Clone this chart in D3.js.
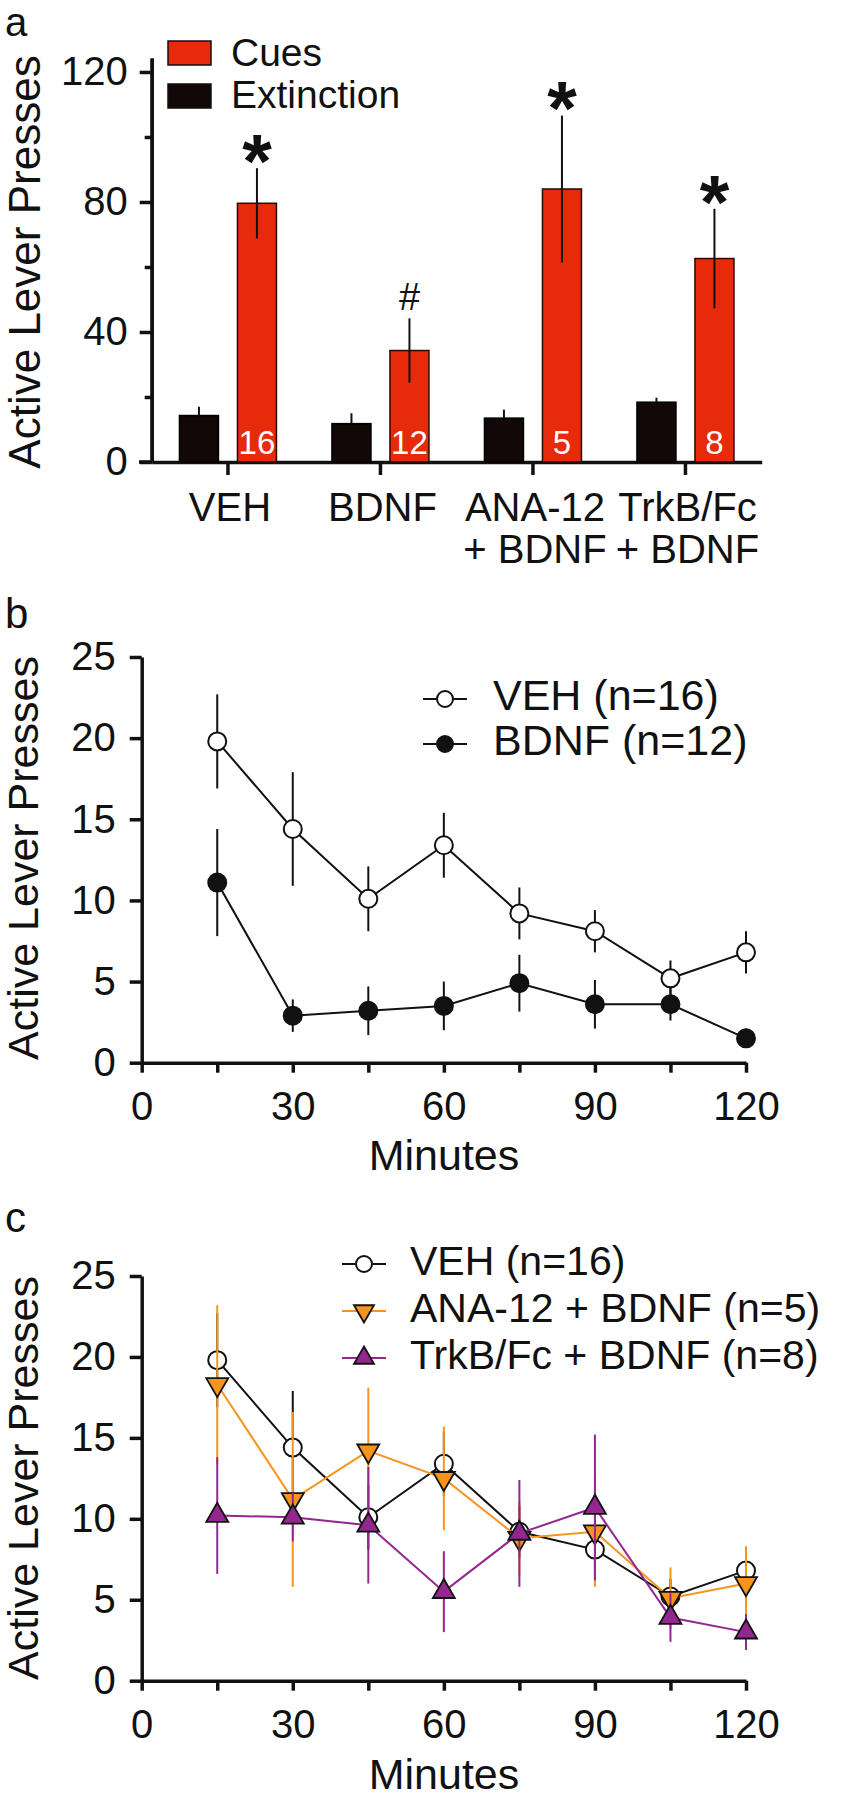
<!DOCTYPE html>
<html>
<head>
<meta charset="utf-8">
<script src="https://cdn.jsdelivr.net/npm/d3@7"></script>
<style>
  html, body { margin: 0; padding: 0; background: #fff; }
  svg text { font-family: "Liberation Sans", Arial, Helvetica, sans-serif; fill: #111; }
</style>
</head>
<body>
<svg id="chart" width="844" height="1800"></svg>
<script>
// ---------- Panel a data ----------
const groups = ["VEH", "BDNF", "ANA-12 + BDNF", "TrkB/Fc + BDNF"];
const groupLabelLines = [["VEH"], ["BDNF"], ["ANA-12", "+ BDNF"], ["TrkB/Fc", "+ BDNF"]];
const extinctionMean = [14.3, 11.8, 13.5, 18.4];
const extinctionSem = [2.7, 3.2, 2.6, 1.4];
const cuesMean = [79.6, 34.3, 84.0, 62.6];
const cuesSem = [10.8, 9.9, 22.6, 15.3];
const sampleN = [16, 12, 5, 8];
const sigMarks = ["*", "#", "*", "*"];
const barTicksMajor = [0, 40, 80, 120];
const barTicksMinor = [20, 60, 100];
const barLegend = ["Cues", "Extinction"];

// ---------- Panels b / c data ----------
const minutes = [15, 30, 45, 60, 75, 90, 105, 120];
const minuteTicks = [0, 15, 30, 45, 60, 75, 90, 105, 120];
const minuteLabels = [0, 30, 60, 90, 120];
const timeYTicks = [0, 5, 10, 15, 20, 25];
const vehMean = [19.8, 14.4, 10.1, 13.4, 9.2, 8.1, 5.2, 6.8];
const vehSem = [2.9, 3.5, 2.0, 2.0, 1.6, 1.3, 1.1, 1.3];
const bdnfMean = [11.1, 2.9, 3.2, 3.5, 4.9, 3.6, 3.6, 1.5];
const bdnfSem = [3.3, 1.0, 1.5, 1.5, 1.75, 1.5, 1.0, 0.6];
const anaMean = [18.3, 11.2, 14.2, 12.5, 8.8, 9.2, 5.1, 6.0];
const anaSem = [4.9, 5.4, 3.9, 3.2, 2.3, 3.4, 1.9, 2.3];
const trkbMean = [10.2, 10.1, 9.6, 5.5, 9.1, 10.7, 3.9, 3.0];
const trkbSem = [3.6, 1.5, 3.6, 2.5, 3.3, 4.5, 1.5, 1.1];

const RED = "#e62a0a", BLACK = "#120808", ORANGE = "#f7941d", PURPLE = "#93278f";
const FONT_TICK = 40;

const svg = d3.select("#chart");

function styleAxis(g, fs) {
  g.select(".domain").attr("stroke", "#111").attr("stroke-width", 3.5);
  g.selectAll(".tick line").attr("stroke", "#111").attr("stroke-width", 3.5);
  g.selectAll(".tick text").attr("font-size", fs).attr("fill", "#111")
    .attr("font-family", '"Liberation Sans", Arial, sans-serif');
}

// ================= Panel a =================
(function () {
  const x0 = d3.scaleBand().domain(groups).range([151.7, 761.7]);
  const y = d3.scaleLinear().domain([0, 124.3]).range([462, 58]);
  const g = svg.append("g");
  const barW = 39, off = 29;

  svg.append("text").attr("x", 5).attr("y", 36).attr("font-size", 40).text("a");

  // axes
  const yAx = g.append("g").attr("transform", "translate(151.7,0)")
    .call(d3.axisLeft(y).tickValues(barTicksMajor).tickSize(12).tickPadding(12).tickSizeOuter(0));
  styleAxis(yAx, FONT_TICK);
  const yMinor = g.append("g").attr("transform", "translate(151.7,0)")
    .call(d3.axisLeft(y).tickValues(barTicksMinor).tickSize(7).tickFormat("").tickSizeOuter(0));
  styleAxis(yMinor, FONT_TICK);

  const xAx = g.append("g").attr("transform", "translate(0,462)")
    .call(d3.axisBottom(x0).tickSize(13).tickFormat("").tickSizeOuter(0));
  styleAxis(xAx, FONT_TICK);
  g.append("line").attr("x1", 139).attr("x2", 152).attr("y1", 462).attr("y2", 462)
    .attr("stroke", "#111").attr("stroke-width", 3.5);

  // group labels
  groups.forEach((gr, i) => {
    const cx = x0(gr) + x0.bandwidth() / 2;
    groupLabelLines[i].forEach((ln, j) => {
      g.append("text").attr("x", cx + 2).attr("y", 521 + j * 42)
        .attr("text-anchor", "middle").attr("font-size", FONT_TICK).text(ln);
    });
  });

  // bars
  groups.forEach((gr, i) => {
    const cx = x0(gr) + x0.bandwidth() / 2;
    // extinction
    g.append("rect").attr("x", cx - off - barW / 2).attr("y", y(extinctionMean[i]))
      .attr("width", barW).attr("height", y(0) - y(extinctionMean[i]))
      .attr("fill", BLACK).attr("stroke", "#000").attr("stroke-width", 1.5);
    g.append("line").attr("x1", cx - off).attr("x2", cx - off)
      .attr("y1", y(extinctionMean[i] + extinctionSem[i])).attr("y2", y(extinctionMean[i]))
      .attr("stroke", "#111").attr("stroke-width", 2);
    // cues
    g.append("rect").attr("x", cx + off - barW / 2).attr("y", y(cuesMean[i]))
      .attr("width", barW).attr("height", y(0) - y(cuesMean[i]))
      .attr("fill", RED).attr("stroke", "#2a0a05").attr("stroke-width", 1.5);
    g.append("line").attr("x1", cx + off).attr("x2", cx + off)
      .attr("y1", y(cuesMean[i] + cuesSem[i])).attr("y2", y(cuesMean[i] - cuesSem[i]))
      .attr("stroke", "#111").attr("stroke-width", 2);
    // n label
    g.append("text").attr("x", cx + off).attr("y", 454).attr("text-anchor", "middle")
      .attr("font-size", 33).style("fill", "#fff").text(sampleN[i]);
    // significance mark
    const topY = y(cuesMean[i] + cuesSem[i]);
    if (sigMarks[i] === "*") {
      const fs = 76;
      g.append("text").attr("x", cx + off).attr("y", topY - 23 + 0.55 * fs)
        .attr("text-anchor", "middle").attr("font-size", fs).attr("font-weight", "bold")
        .text("*");
    } else {
      g.append("text").attr("x", cx + off).attr("y", topY - 21 + 13)
        .attr("text-anchor", "middle").attr("font-size", 38).text(sigMarks[i]);
    }
  });

  // legend
  const legColors = [RED, BLACK];
  barLegend.forEach((lab, i) => {
    g.append("rect").attr("x", 168).attr("y", 41 + i * 43).attr("width", 43).attr("height", 24)
      .attr("fill", legColors[i]).attr("stroke", "#111").attr("stroke-width", 1.5);
    g.append("text").attr("x", 231).attr("y", 66 + i * 42).attr("font-size", 39).text(lab);
  });

  g.append("text").attr("transform", "translate(40,262) rotate(-90)")
    .attr("text-anchor", "middle").attr("font-size", 44).text("Active Lever Presses");
})();

// ================= Panels b and c =================
function timePanel(opts) {
  const { y0, yTop, letter, letterY, series, legendX, legendTextX, legendY, legendStep, legendFs, minutesY, titleY } = opts;
  const x = d3.scaleLinear().domain([0, 120]).range([141.7, 746]);
  const y = d3.scaleLinear().domain([0, 25]).range([y0, yTop]);
  const g = svg.append("g");

  svg.append("text").attr("x", 5).attr("y", letterY).attr("font-size", 42).text(letter);

  const yAx = g.append("g").attr("transform", "translate(141.7,0)")
    .call(d3.axisLeft(y).tickValues(timeYTicks).tickSize(12).tickPadding(14).tickSizeOuter(0));
  styleAxis(yAx, FONT_TICK);
  const xAx = g.append("g").attr("transform", `translate(0,${y0})`)
    .call(d3.axisBottom(x).tickValues(minuteTicks).tickSize(10).tickPadding(19).tickSizeOuter(0)
      .tickFormat(d => minuteLabels.includes(d) ? d : ""));
  styleAxis(xAx, FONT_TICK);

  g.append("text").attr("x", 444).attr("y", minutesY).attr("text-anchor", "middle")
    .attr("font-size", 43).text("Minutes");
  g.append("text").attr("transform", `translate(38,${titleY}) rotate(-90)`)
    .attr("text-anchor", "middle").attr("font-size", 43).text("Active Lever Presses");

  const line = d3.line().x((d, i) => x(minutes[i])).y(d => y(d));

  function marker(sel, s, cx, cy, big) {
    if (s.shape === "circle") {
      sel.append("circle").attr("cx", cx).attr("cy", cy).attr("r", big ? 9 : 8)
        .attr("fill", s.fill).attr("stroke", "#111").attr("stroke-width", 2);
    } else {
      const side = big ? 22 : 20;
      const sym = d3.symbol().type(d3.symbolTriangle).size(side * side * Math.sqrt(3) / 4);
      sel.append("path").attr("d", sym())
        .attr("transform", `translate(${cx},${cy}) rotate(${s.shape === "down" ? 180 : 0})`)
        .attr("fill", s.fill).attr("stroke", "#111").attr("stroke-width", 1.8);
    }
  }

  series.forEach(s => {
    const sg = g.append("g");
    s.mean.forEach((m, i) => {
      sg.append("line").attr("x1", x(minutes[i])).attr("x2", x(minutes[i]))
        .attr("y1", y(m + s.sem[i])).attr("y2", y(Math.max(0, m - s.sem[i])))
        .attr("stroke", s.color).attr("stroke-width", 2);
    });
    sg.append("path").attr("d", line(s.mean)).attr("fill", "none")
      .attr("stroke", s.color).attr("stroke-width", 2);
    s.mean.forEach((m, i) => marker(sg, s, x(minutes[i]), y(m), true));
  });

  // legend
  series.forEach((s, i) => {
    const by = legendY + i * legendStep;
    const my = by - 11;
    g.append("line").attr("x1", legendX).attr("x2", legendX + 44).attr("y1", my).attr("y2", my)
      .attr("stroke", s.color).attr("stroke-width", 2);
    marker(g, s, legendX + 22, my, false);
    g.append("text").attr("x", legendTextX).attr("y", by).attr("font-size", legendFs).text(s.label);
  });
}

timePanel({
  y0: 1062.7, yTop: 657, letter: "b", letterY: 628,
  series: [
    { label: "VEH (n=16)", mean: vehMean, sem: vehSem, color: "#111", fill: "#fff", shape: "circle" },
    { label: "BDNF (n=12)", mean: bdnfMean, sem: bdnfSem, color: "#111", fill: "#111", shape: "circle" }
  ],
  legendX: 423, legendTextX: 493, legendY: 710, legendStep: 45, legendFs: 43,
  minutesY: 1170, titleY: 858
});

timePanel({
  y0: 1680.7, yTop: 1276, letter: "c", letterY: 1232,
  series: [
    { label: "VEH (n=16)", mean: vehMean, sem: vehSem, color: "#111", fill: "#fff", shape: "circle" },
    { label: "ANA-12 + BDNF (n=5)", mean: anaMean, sem: anaSem, color: ORANGE, fill: ORANGE, shape: "down" },
    { label: "TrkB/Fc + BDNF (n=8)", mean: trkbMean, sem: trkbSem, color: PURPLE, fill: PURPLE, shape: "up" }
  ],
  legendX: 342, legendTextX: 410, legendY: 1275, legendStep: 47, legendFs: 41,
  minutesY: 1789, titleY: 1478
});
</script>
</body>
</html>
